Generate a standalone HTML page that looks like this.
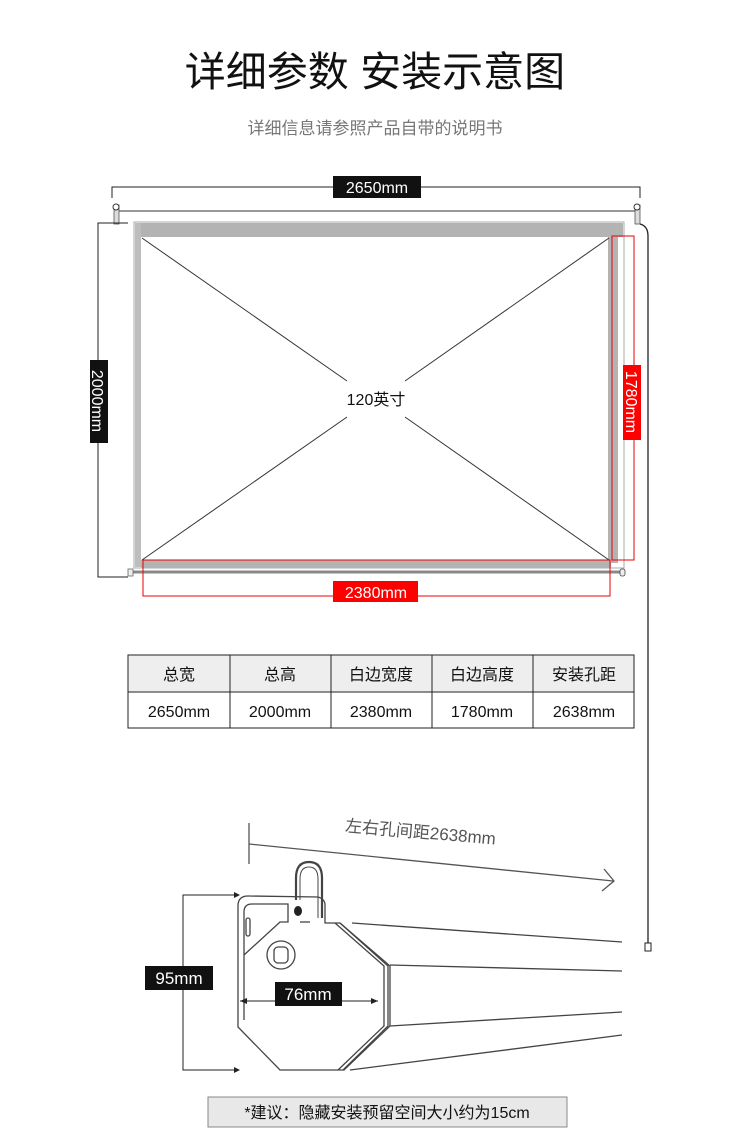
<!DOCTYPE html>
<html><head><meta charset="utf-8"><style>
html,body{margin:0;padding:0;background:#fff;}
svg{display:block;}
text{font-family:"Liberation Sans","Noto Sans CJK SC",sans-serif;}
</style></head><body>
<svg width="750" height="1139" viewBox="0 0 750 1139" xmlns="http://www.w3.org/2000/svg">
<text x="375" y="86" font-size="41" text-anchor="middle" fill="#111">详细参数 安装示意图</text>
<text x="375" y="134" font-size="17" text-anchor="middle" fill="#777">详细信息请参照产品自带的说明书</text>

<!-- top dimension -->
<polyline points="112,198 112,187 640,187 640,198" fill="none" stroke="#222" stroke-width="1"/>
<rect x="333" y="176" width="88" height="22" fill="#111"/>
<text x="377" y="193" font-size="16" text-anchor="middle" fill="#fff">2650mm</text>
<!-- rod -->
<line x1="116" y1="211" x2="638" y2="211" stroke="#777" stroke-width="1.5"/>
<rect x="114" y="205" width="5" height="19" fill="#ddd" stroke="#555" stroke-width="0.8"/>
<circle cx="116" cy="207" r="3" fill="#fff" stroke="#333"/>
<rect x="635" y="205" width="5" height="19" fill="#ddd" stroke="#555" stroke-width="0.8"/>
<circle cx="637" cy="207" r="3" fill="#fff" stroke="#333"/>
<!-- cable -->
<path d="M640,224 Q648,226 648,236 L648,945" fill="none" stroke="#222" stroke-width="1.3"/>
<rect x="645" y="943" width="6" height="8" fill="#fff" stroke="#222"/>
<!-- screen -->
<rect x="134" y="222" width="490" height="346" fill="#fff" stroke="#aaa"/>
<rect x="135" y="223" width="488" height="14" fill="#b3b3b3"/>
<rect x="135" y="223" width="6" height="344" fill="#bdbdbd"/>
<rect x="608" y="223" width="10" height="340" fill="#b3b3b3"/>
<rect x="141" y="560" width="470" height="8" fill="#b3b3b3"/>
<line x1="128" y1="572" x2="624" y2="572" stroke="#888" stroke-width="3"/>
<rect x="128" y="569" width="5" height="7" fill="#eee" stroke="#666" stroke-width="0.8"/>
<rect x="620" y="569" width="5" height="7" rx="2" fill="#eee" stroke="#444" stroke-width="0.8"/>
<!-- diagonals -->
<g stroke="#333" stroke-width="1">
<line x1="142" y1="238" x2="347" y2="381"/>
<line x1="609" y1="238" x2="405" y2="381"/>
<line x1="142" y1="560" x2="347" y2="417"/>
<line x1="609" y1="560" x2="405" y2="417"/>
</g>
<text x="376" y="405" font-size="16" text-anchor="middle" fill="#111">120英寸</text>
<!-- left dim -->
<polyline points="128,223 98,223 98,577 128,577" fill="none" stroke="#222" stroke-width="1"/>
<rect x="90" y="360" width="18" height="83" fill="#111"/>
<text transform="translate(92,401) rotate(90)" font-size="16" text-anchor="middle" fill="#fff">2000mm</text>
<!-- red dims -->
<rect x="612" y="236" width="22" height="324" fill="none" stroke="#e00" stroke-width="1"/>
<rect x="623" y="365" width="18" height="75" fill="#f00"/>
<text transform="translate(626,402) rotate(90)" font-size="16" text-anchor="middle" fill="#fff">1780mm</text>
<rect x="143" y="560" width="467" height="36" fill="none" stroke="#e00" stroke-width="1"/>
<rect x="333" y="581" width="85" height="21" fill="#f00"/>
<text x="376" y="598" font-size="16" text-anchor="middle" fill="#fff">2380mm</text>

<!-- table -->
<rect x="128" y="655" width="506" height="37" fill="#eee"/>
<rect x="128" y="655" width="506" height="73" fill="none" stroke="#222" stroke-width="1"/>
<line x1="128" y1="692" x2="634" y2="692" stroke="#222"/>
<g stroke="#222"><line x1="230" y1="655" x2="230" y2="728"/><line x1="331" y1="655" x2="331" y2="728"/><line x1="432" y1="655" x2="432" y2="728"/><line x1="533" y1="655" x2="533" y2="728"/></g>
<g font-size="16" text-anchor="middle" fill="#111">
<text x="179" y="680">总宽</text><text x="280" y="680">总高</text><text x="381" y="680">白边宽度</text><text x="482" y="680">白边高度</text><text x="584" y="680">安装孔距</text>
<text x="179" y="717">2650mm</text><text x="280" y="717">2000mm</text><text x="381" y="717">2380mm</text><text x="482" y="717">1780mm</text><text x="584" y="717">2638mm</text>
</g>

<!-- bottom -->
<line x1="249" y1="823" x2="249" y2="864" stroke="#555" stroke-width="1.3"/>
<line x1="249" y1="844" x2="613" y2="881" stroke="#555" stroke-width="1.3"/>
<polyline points="604,869 614,881 602,891" fill="none" stroke="#555" stroke-width="1.3"/>
<text transform="translate(420,838) rotate(5)" font-size="17" text-anchor="middle" fill="#555">左右孔间距2638mm</text>
<!-- tube lines -->
<g stroke="#444" stroke-width="1.3" fill="none">
<line x1="352" y1="923" x2="622" y2="942"/>
<line x1="390" y1="965" x2="622" y2="971"/>
<line x1="390" y1="1026" x2="622" y2="1012"/>
<line x1="350" y1="1070" x2="622" y2="1035"/>
<!-- end cap -->
<path d="M238,1027 L238,906 Q238,896 248,896 L318,897 Q325,899 325,905 L325,923 L340,923 L390,966 L390,1026 L344,1070 L280,1070 Z" fill="#fff"/>
<path d="M340,923 L388,966 L388,1026 L343,1070" />
<path d="M335,923 L384,966 L384,1026 L338,1070" />
<path d="M244,1020 L244,912 Q244,904 252,904 L288,904 L288,922 L280,922 L244,955"/>
<path d="M300,922 L310,922"/>
<path d="M296,900 L296,878 Q296,862 309,862 Q322,862 322,878 L322,918" stroke-width="2.2"/>
<path d="M300,900 L300,879 Q300,867 309,867 Q318,867 318,879 L318,918" stroke-width="1"/>
<circle cx="281" cy="955" r="14"/>
<rect x="274" y="947" width="14" height="16" rx="4"/>
<rect x="246" y="918" width="4" height="18" rx="2"/>
</g>
<ellipse cx="298" cy="911" rx="4" ry="5" fill="#222"/>
<!-- 95mm -->
<polyline points="238,895 183,895 183,1070 238,1070" fill="none" stroke="#222" stroke-width="1"/>
<path d="M240,895 l-6,-3 v6z M240,1070 l-6,-3 v6z" fill="#222"/>
<rect x="145" y="966" width="68" height="24" fill="#111"/>
<text x="179" y="984" font-size="17" text-anchor="middle" fill="#fff">95mm</text>
<!-- 76mm -->
<line x1="240" y1="1001" x2="378" y2="1001" stroke="#222"/>
<path d="M240,1001 l7,-3 v6z M378,1001 l-7,-3 v6z" fill="#222"/>
<rect x="275" y="982" width="67" height="24" fill="#111"/>
<text x="308" y="1000" font-size="17" text-anchor="middle" fill="#fff">76mm</text>
<!-- note -->
<rect x="208" y="1097" width="359" height="30" fill="#e8e8e8" stroke="#888"/>
<text x="387" y="1118" font-size="16" text-anchor="middle" fill="#111">*建议：隐藏安装预留空间大小约为15cm</text>
</svg>
</body></html>
